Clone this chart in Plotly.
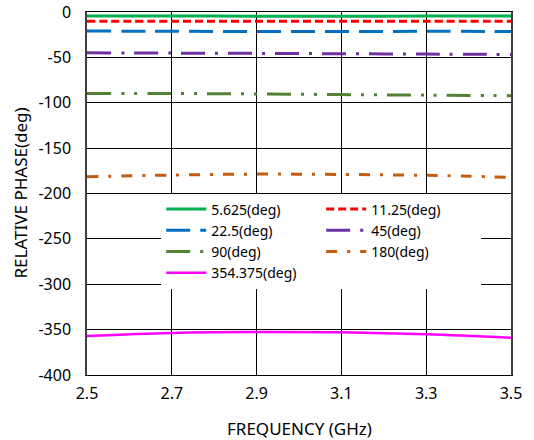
import plotly.graph_objects as go

freq = [2.5, 2.7, 2.9, 3.1, 3.3, 3.5]
names = ["5.625(deg)", "11.25(deg)", "22.5(deg)", "45(deg)", "90(deg)", "180(deg)", "354.375(deg)"]
p5625 = [-4.5, -4.5, -4.6, -4.6, -4.5, -4.5]
p1125 = [-10.2, -10.2, -10.3, -10.3, -10.2, -10.2]
p225 = [-21.0, -21.2, -21.5, -21.5, -21.3, -21.4]
p45 = [-45.0, -45.3, -45.6, -46.0, -46.4, -46.8]
p90 = [-89.8, -89.8, -90.3, -91.0, -91.6, -92.2]
p180 = [-181.5, -179.7, -178.6, -179.0, -180.0, -182.2]
p354 = [-357.0, -353.6, -352.5, -353.0, -355.2, -359.0]
series = [p5625, p1125, p225, p45, p90, p180, p354]
xticks = [2.5, 2.7, 2.9, 3.1, 3.3, 3.5]
xticklabels = ["2.5", "2.7", "2.9", "3.1", "3.3", "3.5"]
yticks = [0, -50, -100, -150, -200, -250, -300, -350, -400]
yticklabels = ["0", "-50", "-100", "-150", "-200", "-250", "-300", "-350", "-400"]

colors = ["#00B050", "#FF0000", "#0070C0", "#7030A0", "#548235", "#C55A11", "#FF00FF"]
dashes = ["solid", "8px,4px", "24px,10px", "24px,10px,3px,10px",
          "24px,10px,3px,10px,3px,10px", "11px,10px,3px,10px", "solid"]
widths = [3, 3, 3, 3, 3, 3, 2.5]

FONT = "Noto Sans"
fig = go.Figure()
for n, ys, c, d, w in zip(names, series, colors, dashes, widths):
    fig.add_trace(go.Scatter(x=freq, y=ys, name=n, mode="lines",
                             line=dict(color=c, dash=d, width=w, shape="spline")))

fig.update_layout(
    width=534, height=440,
    margin=dict(l=87, r=23, t=12, b=65, autoexpand=False),
    paper_bgcolor="white", plot_bgcolor="white",
    font=dict(family=FONT, size=16, color="#000000"),
    legend=dict(orientation="h", x=0.175, y=0.5, xanchor="left", yanchor="top",
                bgcolor="white", entrywidth=105, entrywidthmode="pixels",
                itemwidth=40, font=dict(size=14), tracegroupgap=0),
    showlegend=True,
    annotations=[
        dict(text="FREQUENCY (GHz)", xref="paper", yref="paper", x=0.5, y=0,
             yshift=-53, xanchor="center", yanchor="middle", showarrow=False,
             font=dict(size=17)),
        dict(text="RELATIVE PHASE(deg)", xref="paper", yref="paper", x=0, y=0.5,
             xshift=-67, xanchor="center", yanchor="middle", showarrow=False,
             textangle=-90, font=dict(size=17)),
    ],
)
fig.update_xaxes(range=[2.5, 3.5], tickvals=xticks, ticktext=xticklabels,
                 showgrid=True, gridcolor="#000000", gridwidth=1,
                 showline=True, linecolor="#000000", linewidth=1, mirror=True,
                 ticks="", zeroline=False, automargin=False, ticklabelstandoff=4)
fig.update_yaxes(range=[-400, 0], tickvals=yticks, ticktext=yticklabels,
                 showgrid=True, gridcolor="#000000", gridwidth=1,
                 showline=True, linecolor="#404040", linewidth=1.5, mirror=True,
                 ticks="", zeroline=False, automargin=False, ticklabelstandoff=11,
                 ticklabeloverflow="allow")

fig.write_html("out.html", config={"displayModeBar": False},
               post_script="document.body.style.margin='0px';")
